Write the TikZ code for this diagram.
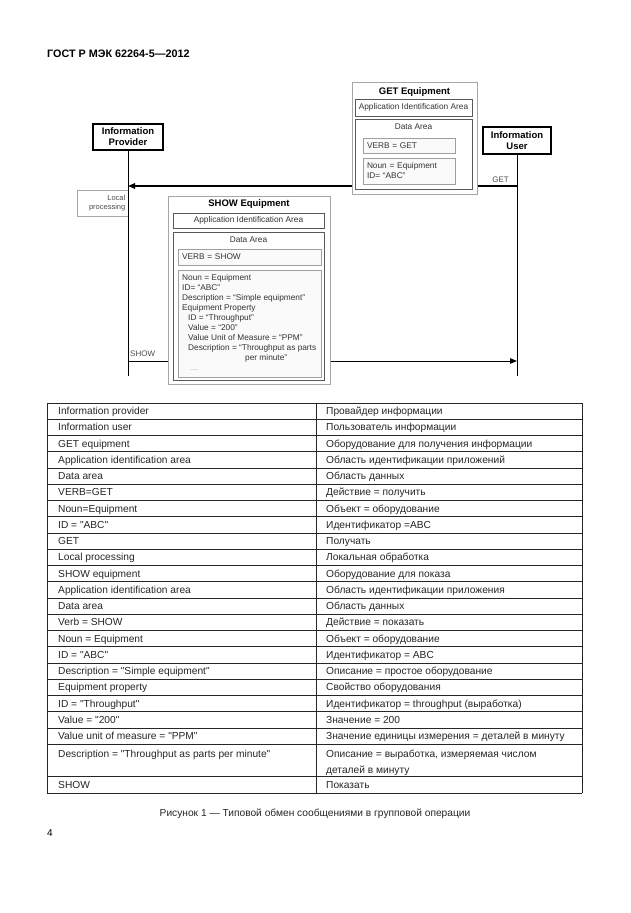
\documentclass[tikz,border=0pt]{standalone}
\usepackage{fontspec}
\setmainfont[Ligatures=TeXOff]{Liberation Sans}
\usepackage{tikz}
\usetikzlibrary{arrows.meta,positioning}

\begin{document}
\begin{tikzpicture}[x=1pt, y=-1pt,
  actor/.style={draw, line width=1.3pt, fill=white, align=center, inner sep=1pt,
    font=\fontsize{9.5}{11}\selectfont\bfseries},
  life/.style={line width=1pt},
  arr/.style={-{Triangle[length=7pt, width=5.5pt]}},
  msgbox/.style={draw=gray!70, fill=white, line width=0.9pt, anchor=north west,
    inner sep=0pt, outer sep=0pt},
  areabox/.style={draw=black!65, fill=white, line width=0.6pt, anchor=north west,
    inner sep=0pt, outer sep=0pt, font=\fontsize{8.3}{10}\selectfont, text=black!80},
  fieldbox/.style={draw=gray!75, fill=gray!4, line width=1pt, anchor=north west,
    inner ysep=0pt, inner xsep=4pt, outer sep=0pt, align=left,
    font=\fontsize{8.3}{10}\selectfont, text=black!80},
  msgtitle/.style={font=\fontsize{9.5}{11}\selectfont\bfseries, inner sep=0pt},
  small/.style={font=\fontsize{8.3}{10}\selectfont, text=black!80, inner sep=0pt},
  note/.style={font=\fontsize{8}{10}\selectfont, text=black!70, inner sep=0pt},
  rule/.style={line width=0.9pt, black!85},
  cell/.style={anchor=base west, inner sep=0pt, font=\fontsize{10.2}{16}\selectfont,
    text=black!85, align=left},
]
\useasboundingbox (0,0) rectangle (630,913);

\node[anchor=west, inner sep=0pt, font=\fontsize{10.8}{12}\selectfont\bfseries]
  (head) at (47,54) {ГОСТ Р МЭК 62264-5—2012};

\node[actor, minimum width=70pt, minimum height=26pt] (prov) at (128,137)
  {Information\\Provider};
\node[actor, minimum width=68pt, minimum height=27pt] (user) at (517,140.5)
  {Information\\User};

\node[draw=gray!70, line width=0.6pt, anchor=north west, minimum height=26pt,
  text width=45pt, inner xsep=3pt, inner ysep=1pt, align=right,
  font=\fontsize{7.5}{9.5}\selectfont, text=black!70] (local) at (77,190)
  {Local\\processing};

\coordinate (provend) at (128,376);
\coordinate (userend) at (517,376);
\draw[life] (prov) -- (provend);
\draw[life] (user) -- (userend);

\coordinate (getfrom) at (517,186);
\coordinate (getto) at (128,186);
\draw[arr, line width=1.5pt] (getfrom) -- (getto);
\node[note, anchor=south east] (getlbl) at (509,183) {GET};

\coordinate (showfrom) at (128,361);
\coordinate (showto) at (517,361);
\draw[arr, line width=1pt] (showfrom) -- (showto);
\node[note, anchor=south west] (showlbl) at (130,357) {SHOW};

% GET message
\node[msgbox, minimum width=125pt, minimum height=112pt] (getmsg) at (352,82) {};
\node[msgtitle] (gettitle) at (414.5,92) {GET Equipment};
\node[areabox, minimum width=117pt, minimum height=17pt] (getapp) at (355,99)
  {Application Identification Area};
\node[areabox, minimum width=117pt, minimum height=70pt] (getdata) at (355,119) {};
\node[small, below=5pt of getdata.north] (getdatalbl) {Data Area};
\node[fieldbox, text width=84pt, minimum height=15pt] (getverb) at (363,138)
  {VERB = GET};
\node[fieldbox, text width=84pt, minimum height=26pt] (getnoun) at (363,158)
  {Noun = Equipment\\ID= “ABC”};

% SHOW message
\node[msgbox, minimum width=162pt, minimum height=188pt] (showmsg) at (168,196) {};
\node[msgtitle] (showtitle) at (249,204) {SHOW Equipment};
\node[areabox, minimum width=151pt, minimum height=15pt] (showapp) at (173,213)
  {Application Identification Area};
\node[areabox, minimum width=151pt, minimum height=148pt] (showdata) at (173,232) {};
\node[small, below=5pt of showdata.north] (showdatalbl) {Data Area};
\node[fieldbox, text width=135pt, minimum height=16pt] (showverb) at (178,249)
  {VERB = SHOW};
\node[fieldbox, text width=135pt, minimum height=107pt, inner ysep=3pt] (showbody)
  at (178,270) {};
\node[small, anchor=north west, align=left] (showtxt) at (182,274)
  {Noun = Equipment\\
   ID= “ABC”\\
   Description = “Simple equipment”\\
   Equipment Property\\
   \hspace*{6pt}ID = “Throughput”\\
   \hspace*{6pt}Value = “200”\\
   \hspace*{6pt}Value Unit of Measure = “PPM”\\
   \hspace*{6pt}Description = “Throughput as parts\\
   \hspace*{63pt}per minute”\\
   \hspace*{8pt}{\color{gray!80}\fontsize{7}{10}\selectfont ....}};

% table
\foreach \k in {0,...,21}
  \draw[rule] (47,{403+16.25*\k}) -- (582,{403+16.25*\k});
\draw[rule] (47,776.75) -- (582,776.75);
\draw[rule] (47,793) -- (582,793);
\foreach \xx in {47,316,582}
  \draw[rule] (\xx,403) -- (\xx,793);

\foreach \l/\r [count=\n] in {
  Information provider/Провайдер информации,
  Information user/Пользователь информации,
  GET equipment/Оборудование для получения информации,
  Application identification area/Область идентификации приложений,
  Data area/Область данных,
  VERB=GET/Действие = получить,
  Noun=Equipment/Объект = оборудование,
  ID = "ABC"/Идентификатор =ABC,
  GET/Получать,
  Local processing/Локальная обработка,
  SHOW equipment/Оборудование для показа,
  Application identification area/Область идентификации приложения,
  Data area/Область данных,
  Verb = SHOW/Действие = показать,
  Noun = Equipment/Объект = оборудование,
  ID = "ABC"/Идентификатор = ABC,
  Description = "Simple equipment"/Описание = простое оборудование,
  Equipment property/Свойство оборудования,
  ID = "Throughput"/Идентификатор = throughput (выработка),
  Value = "200"/Значение = 200,
  Value unit of measure = "PPM"/Значение единицы измерения = деталей в минуту}
{
  \node[cell] (l\n) at (58,{403+16.25*(\n-0.5)+3.6}) {\l};
  \node[cell] (r\n) at (326,{403+16.25*(\n-0.5)+3.6}) {\r};
}
\node[cell] (l22) at (58,757.6) {Description = "Throughput as parts per minute"};
\node[cell] (r22) at (326,773.6)
  {Описание = выработка, измеряемая числом\\деталей в минуту};
\node[cell] (l23) at (58,788.5) {SHOW};
\node[cell] (r23) at (326,788.5) {Показать};

\node[inner sep=0pt, font=\fontsize{10.2}{11}\selectfont, text=black!85] (caption)
  at (315,814) {Рисунок 1 — Типовой обмен сообщениями в групповой операции};
\node[anchor=west, inner sep=0pt, font=\fontsize{10}{11}\selectfont] (pageno)
  at (47,833) {4};
\end{tikzpicture}
\end{document}
